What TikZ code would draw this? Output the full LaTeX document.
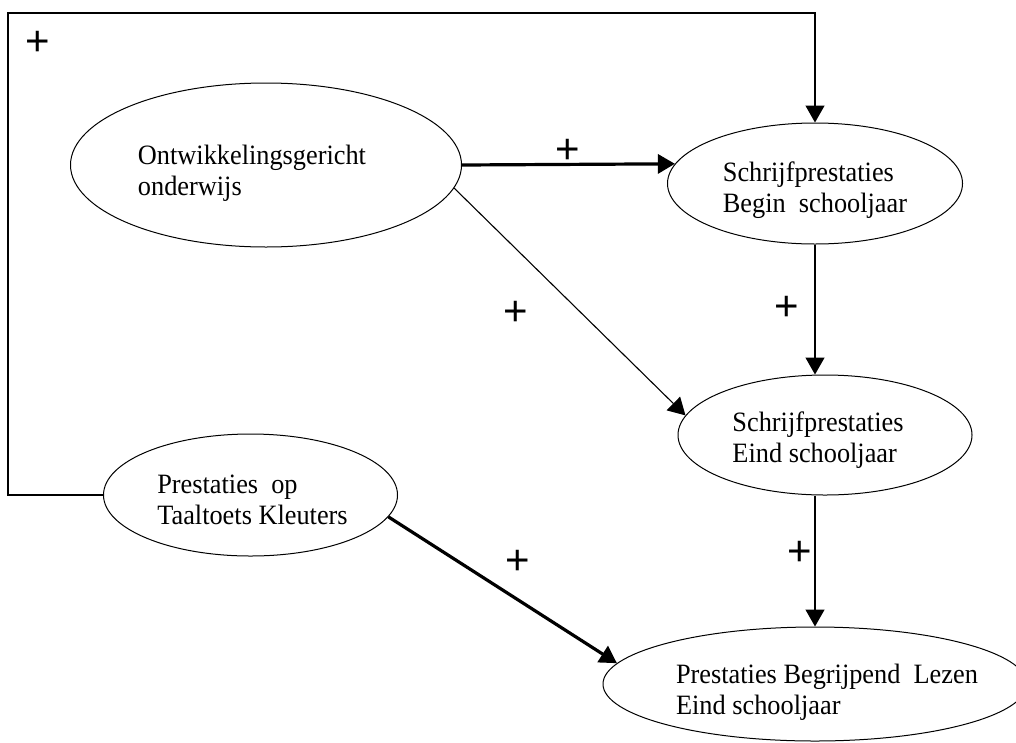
\documentclass[tikz,border=0pt]{standalone}
\usepackage{fontspec}
\setmainfont{Liberation Serif}[FakeStretch=0.94]
\newfontfamily\plusfont{Liberation Sans}
\usetikzlibrary{shapes.geometric,arrows.meta}

\begin{document}
\begin{tikzpicture}[x=1pt,y=-1pt,
  ell/.style={draw,ellipse,line width=1pt,inner sep=0pt},
  txt/.style={inner sep=0pt,align=left,font=\fontsize{28}{31}\selectfont},
  arr/.style={line width=1.4pt,-{Triangle[length=17pt,width=19pt]}},
  thinarr/.style={line width=1.1pt,-{Triangle[length=17pt,width=19pt]}},
  thickarr/.style={line width=3.2pt,-{Triangle[length=17pt,width=19pt]}},
  plussign/.style={font=\plusfont\fontsize{42}{42}\selectfont,inner sep=0pt}]
\useasboundingbox (0,0) rectangle (1016,742);
% ellipses
\node[ell,minimum width=391pt,minimum height=164pt] (ond) at (266,165) {};
\node[ell,minimum width=295pt,minimum height=121pt] (sbegin) at (815,183.5) {};
\node[ell,minimum width=294pt,minimum height=120pt] (seind) at (825,435) {};
\node[ell,minimum width=294pt,minimum height=122pt] (taal) at (250.5,495) {};
\node[ell,minimum width=424pt,minimum height=114pt] (lezen) at (815,684) {};
% texts
\node[txt] (ondtext) at ([xshift=-14pt,yshift=-8pt]ond.center)
  {Ontwikkelingsgericht\\onderwijs};
\node[txt] (sbegintext) at ([xshift=0pt,yshift=-7pt]sbegin.center)
  {Schrijfprestaties\\Begin~ schooljaar};
\node[txt] (seindtext) at ([xshift=-7pt,yshift=-5pt]seind.center)
  {Schrijfprestaties\\Eind schooljaar};
\node[txt] (taaltext) at ([xshift=2pt,yshift=-5pt]taal.center)
  {Prestaties~ op\\Taaltoets Kleuters};
\node[txt] (lezentext) at ([xshift=12pt,yshift=-8pt]lezen.center)
  {Prestaties Begrijpend~ Lezen\\Eind schooljaar};
% connectors
\coordinate (corner) at (8,13);
\draw[arr] (taal.west) -| (corner) -| (sbegin.north);
\draw[thickarr] (ond.east) -- (sbegin.172);
\draw[thinarr] (ond.-7) -- (seind.172);
\draw[arr] (sbegin.south) -- (sbegin.south |- seind.north);
\draw[arr] (seind.south -| lezen.north) -- (lezen.north);
\draw[thickarr] (taal.-9) -- (lezen.174);
% signs
\node[plussign] (p1) at (38,43) {+};
\node[plussign] (p2) at (568,151) {+};
\node[plussign] (p3) at (516,313) {+};
\node[plussign] (p4) at (787,308) {+};
\node[plussign] (p5) at (800,553) {+};
\node[plussign] (p6) at (518,562) {+};
\end{tikzpicture}
\end{document}
